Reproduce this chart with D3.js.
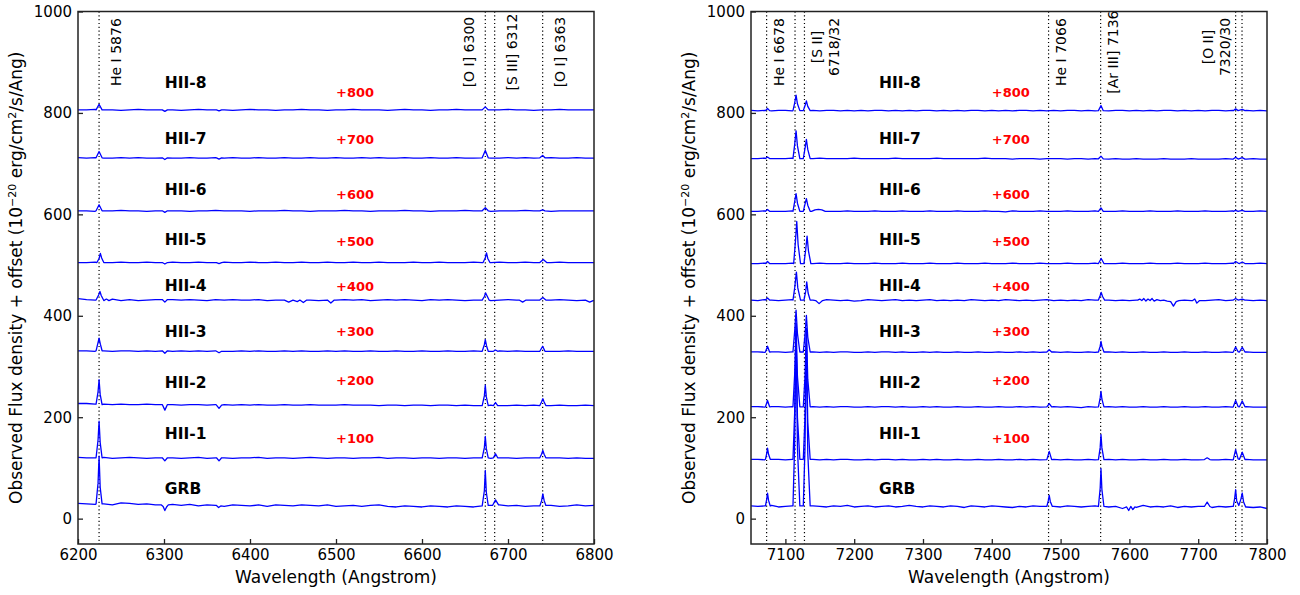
<!DOCTYPE html>
<html><head><meta charset="utf-8">
<script src="https://cdn.jsdelivr.net/npm/d3@7"></script>
<style>body{margin:0;background:#fff}svg{display:block}text{font-family:"DejaVu Sans",sans-serif}</style>
</head><body><svg id="c" width="1300" height="595"></svg>
<script>
// ---------- data ----------
const names = ["GRB","HII-1","HII-2","HII-3","HII-4","HII-5","HII-6","HII-7","HII-8"];
const offsets = [0,100,200,300,400,500,600,700,800];
const offsetLabels = ["","+100","+200","+300","+400","+500","+600","+700","+800"];
const nameY = [60,169,269,369,460,551,650,750,860];
const offsetLabelY = [null,159,272,369,458,547,640,749,841];
const yTicks = [0,200,400,600,800,1000];
const xTicksL = [6200,6300,6400,6500,6600,6700,6800];
const xTicksR = [7100,7200,7300,7400,7500,7600,7700,7800];
const gridStartL = 6200, gridStartR = 7050, gridStep = 10;

// observed positions of marked lines
const markL = [6224.5,6673.6,6684.5,6740.3];
const markR = [7072.7,7114,7127.7,7482.5,7558.2,7754.4,7763.7];
const lineLabelsL = ["He I 5876","[O I] 6300","[S III] 6312","[O I] 6363"];
const lineLabelXL = [6244,6655,6705,6760];
const lineLabelsR = ["He I 6678","[S II]\n6718/32","He I 7066","[Ar III] 7136","[O II]\n7320/30"];
const lineLabelXR = [7091,7158.5,7501,7576,7727];

// continuum flux (no offset), 10 A grid
const contL_GRB = [30,29,28,29,27,31,30,28,29,27,27,28,26,28,25,27,26,24,27,26,25,27,24,27,26,25,27,26,25,27,24,25,26,24,26,27,24,23,25,24,23,25,24,23,25,24,23,25,26,27,25,26,24,25,26,26,24,25,27,25,26];
const contL_HII1 = [21,20,20,21,19,20,21,20,19,20,20,20,19,20,21,19,20,20,19,20,20,21,19,20,20,19,20,21,20,19,20,20,19,20,20,21,19,20,20,19,20,20,19,20,20,19,20,20,19,20,20,19,20,20,19,20,20,19,20,19,19];
const contL_HII2 = [27,27,26,26,25,26,25,25,26,25,25,25,24,25,25,24,25,25,24,25,24,25,24,24,25,24,24,25,24,24,24,25,24,24,24,23,24,24,23,24,24,23,24,24,23,24,23,24,24,23,23,24,23,24,23,23,24,23,23,24,23];
const contL_HII3 = [31,31,30,31,30,31,31,30,31,30,31,30,31,30,31,30,31,30,30,31,30,31,30,30,31,30,31,30,30,31,30,31,30,30,31,30,30,31,30,30,31,30,30,31,30,30,31,30,30,31,30,31,30,30,31,30,30,31,30,30,30];
const contL_HII4 = [34,32,31,30,33,30,32,30,31,32,30,32,31,32,31,30,32,31,32,31,31,32,30,31,32,31,32,31,30,32,31,32,31,32,30,31,32,31,32,31,30,32,31,32,31,30,31,32,30,31,32,31,32,31,30,31,32,31,30,31,30];
const contL_HII5 = [5,5,6,5,5,6,5,5,6,5,5,6,5,5,6,5,5,6,5,5,6,5,5,6,5,5,6,5,5,6,5,5,6,5,5,6,5,5,5,6,5,5,6,5,5,5,6,5,5,6,5,5,6,5,5,5,6,5,5,5,5];
const contL_HII6 = [7,7,6,7,7,8,7,7,6,7,7,7,7,6,7,7,8,7,7,7,6,7,7,7,8,7,7,6,7,7,7,8,7,7,6,7,7,7,8,7,7,6,7,7,7,8,7,7,6,7,7,7,8,7,7,6,7,7,7,7,7];
const contL_HII7 = [12,11,12,11,11,12,11,12,11,11,12,11,11,12,11,11,12,11,12,11,11,12,11,11,12,11,11,12,11,11,12,11,11,12,11,12,11,11,12,11,11,12,11,11,12,11,11,12,11,11,12,11,12,11,11,12,11,11,12,11,11];
const contL_HII8 = [6,6,7,6,6,5,6,7,6,6,6,6,5,6,7,6,6,6,5,6,7,6,6,5,6,6,7,6,6,5,6,6,7,6,6,6,5,6,7,6,6,5,6,6,7,6,6,5,6,6,7,6,6,5,6,6,7,6,6,6,6];

const contR_GRB = [25,24,25,26,23,24,25,24,26,25,24,23,25,24,26,23,24,25,23,24,25,23,24,26,24,23,25,24,23,25,24,22,25,24,23,25,24,23,22,24,23,25,24,22,24,23,25,24,23,24,25,24,23,24,20,25,22,26,23,24,23,25,22,24,23,24,23,22,24,23,24,25,23,22,23,20];
const contR_HII1 = [17,17,16,17,17,16,17,16,17,17,16,17,16,17,17,16,16,17,16,17,17,16,17,16,16,17,16,17,16,16,17,16,16,17,16,16,17,16,16,17,16,17,16,16,17,16,17,16,16,17,16,16,17,16,17,16,16,17,16,16,17,16,16,17,16,16,17,16,16,17,16,16,17,16,16,16];
const contR_HII2 = [21,21,20,21,21,20,21,20,21,21,20,21,20,21,21,20,20,21,20,21,21,20,21,20,20,21,20,21,20,20,21,20,20,21,20,20,21,20,20,21,20,21,20,20,21,20,21,20,19,21,20,20,21,20,21,20,20,21,20,20,21,20,20,21,20,20,21,20,20,21,20,20,21,20,20,20];
const contR_HII3 = [29,29,28,29,29,28,29,28,29,29,28,29,28,29,29,28,28,29,28,29,29,28,29,28,28,29,28,29,28,28,29,28,28,29,28,28,29,28,28,29,28,29,28,28,29,28,29,28,28,29,28,28,29,28,29,28,28,29,28,28,29,28,28,29,28,28,29,28,28,29,28,28,29,28,28,28];
const contR_HII4 = [31,30,32,31,30,31,32,30,31,31,30,32,31,30,31,29,30,32,31,30,31,32,30,31,30,31,32,30,31,30,31,30,32,31,30,31,30,32,31,30,31,30,31,32,30,31,30,31,30,32,31,30,31,30,31,30,31,30,31,30,31,32,30,31,30,31,30,31,32,30,31,30,31,30,31,30];
const contR_HII5 = [3,3,4,3,3,3,4,3,3,3,4,3,3,3,4,3,3,3,4,3,3,3,4,3,3,3,4,3,3,3,4,3,3,3,4,3,3,3,4,3,3,3,4,3,3,3,4,3,3,3,4,3,3,3,4,3,3,3,4,3,3,3,4,3,3,3,4,3,3,3,4,3,3,3,4,3];
const contR_HII6 = [6,6,7,6,6,6,7,6,6,6,7,6,6,6,7,6,6,6,7,6,6,6,7,6,6,6,7,6,6,6,7,6,6,6,7,6,6,5,7,6,6,6,7,6,6,6,7,6,6,6,7,6,6,6,7,6,6,6,7,6,6,6,7,6,6,6,7,6,6,6,7,6,6,6,7,6];
const contR_HII7 = [10,10,11,10,10,10,11,10,10,10,11,10,10,10,10,11,10,10,10,10,10,11,10,10,10,10,10,11,10,10,10,10,10,10,11,10,10,10,9,10,10,10,9,10,10,10,9,10,10,9,10,9,9,10,9,9,10,9,9,9,10,9,9,9,10,9,9,9,9,10,9,9,9,10,9,9];
const contR_HII8 = [5,4,5,4,5,5,4,5,4,5,4,5,5,4,5,4,5,4,5,5,4,5,4,5,4,5,5,4,5,4,5,4,5,5,4,5,4,5,4,5,5,4,5,4,5,4,5,5,4,5,4,5,4,5,5,4,5,4,5,4,5,5,4,5,4,5,4,5,5,4,5,4,5,4,5,4];

// line / feature points [wavelength, flux] (no offset)
const featL_GRB = [
 [[6221,29],[6223.3,70],[6224.5,123],[6225.8,62],[6228,29]],
 [[6297,27],[6299,24],[6301,16],[6303,23],[6305,27]],
 [[6361,26],[6363.5,22],[6366,25]],
 [[6670,25],[6672.5,55],[6673.6,95],[6674.8,52],[6677,26]],
 [[6682,26],[6685.5,37],[6689,27]],
 [[6737,25],[6739,35],[6740.5,49],[6742,36],[6744,26]]];
const featL_HII1 = [
 [[6221,20],[6223.3,55],[6224.5,92],[6225.8,50],[6228,20]],
 [[6298,20],[6301,14],[6304,20]],
 [[6361,20],[6364,14],[6367,20]],
 [[6670,20],[6672.5,40],[6673.6,62],[6674.8,38],[6677,20]],
 [[6683,20],[6685.5,28],[6688,20]],
 [[6737,20],[6739,27],[6740.5,34.7],[6742,27],[6744,20]]];
const featL_HII2 = [
 [[6221,26],[6223.3,50],[6224.5,74],[6225.8,45],[6228,25]],
 [[6298,25],[6301,14],[6304,25]],
 [[6361,24],[6364,17.5],[6367,24]],
 [[6670,23],[6672.5,42],[6673.6,63],[6674.8,40],[6677,23]],
 [[6683,23],[6685.5,29],[6688,23]],
 [[6737,23],[6739,30],[6740.5,36.6],[6742,30],[6744,23]]];
const featL_HII3 = [
 [[6221,31],[6223,45],[6224.5,56],[6226,44],[6228,31]],
 [[6298,31],[6301,26],[6304,31]],
 [[6361,30],[6364,27],[6367,30]],
 [[6670,30],[6672.5,43],[6673.6,53],[6675,41],[6677,30]],
 [[6683,30],[6685.5,32.5],[6688,30]],
 [[6737,30],[6740.3,40],[6743,30]]];
const featL_HII4 = [
 [[6221,31],[6224,41],[6225.5,48],[6227,40],[6230,30],[6233,33],[6236,30]],
 [[6298,32],[6301,27],[6304,32]],
 [[6440,31],[6445,27],[6450,31],[6455,28],[6458,31],[6462,26],[6466,31]],
 [[6490,31],[6494,25],[6498,31]],
 [[6670,31],[6672.5,38],[6674,45],[6676,38],[6678,31]],
 [[6713,31],[6717,27],[6721,31]],
 [[6737,31],[6740.5,36],[6744,31]],
 [[6790,31],[6795,27],[6799,30]]];
const featL_HII5 = [
 [[6222,5],[6224.5,13],[6226,23],[6227.5,14],[6230,5]],
 [[6298,5],[6301,2],[6304,5]],
 [[6361,5],[6364,3],[6367,5]],
 [[6671,5],[6673.5,14],[6675,24],[6676.5,13],[6679,5]],
 [[6737,5],[6741,11],[6745,5]]];
const featL_HII6 = [
 [[6221,7],[6224.5,19],[6228,7]],
 [[6298,7],[6301,4],[6304,7]],
 [[6670,7],[6673.6,13],[6677,7]],
 [[6737,7],[6740.3,9],[6743,7]]];
const featL_HII7 = [
 [[6221,11.5],[6224.5,24],[6228,11.5]],
 [[6298,11.5],[6301,8],[6304,11.5]],
 [[6361,11.5],[6364,9],[6367,11.5]],
 [[6670,11.5],[6673.6,26],[6677,11.5]],
 [[6737,11.5],[6740.3,16],[6743,11.5]]];
const featL_HII8 = [
 [[6221,6],[6224.5,17],[6228,6]],
 [[6298,6],[6301,3],[6304,6]],
 [[6361,6],[6364,4],[6367,6]],
 [[6670,6],[6673.6,12],[6677,6]]];

const featR_GRB = [
 [[7071,25],[7072.8,38],[7074,50.5],[7075.5,36],[7078,25]],
 [[7111,25],[7113.5,150],[7115.5,385],[7117.5,140],[7121,25],[7126,25],[7128.5,140],[7130.5,375],[7132.5,130],[7136,25]],
 [[7480,24],[7482,35],[7483.5,46],[7485,34],[7488,24]],
 [[7555,24],[7557.5,60],[7558.7,98.6],[7560,58],[7563,24]],
 [[7596,23],[7599,16],[7602,24],[7605,18],[7608,23]],
 [[7709,24],[7713,32.7],[7717,24]],
 [[7751,24],[7753,40],[7754.4,57],[7756,35],[7759,26],[7762,38],[7764,50.5],[7766,33],[7769,23]]];
const featR_HII1 = [
 [[7071,17],[7072.8,28],[7074,39],[7075.5,27],[7078,17]],
 [[7111,17],[7113.5,110],[7115.5,265],[7117.5,100],[7121,17],[7126,17],[7128.5,100],[7130.5,245],[7132.5,90],[7136,17]],
 [[7480,16.5],[7483.5,32.7],[7487,16.5]],
 [[7555,16.5],[7557.5,40],[7558.7,65.6],[7560,40],[7563,16.5]],
 [[7709,16.5],[7713,20],[7717,16.5]],
 [[7751,16.5],[7754.4,36],[7758,18],[7760,17],[7764,31],[7768,16.5]]];
const featR_HII2 = [
 [[7071,20.5],[7074,33],[7077,20.5]],
 [[7111,20.5],[7113.5,85],[7115.5,185],[7117.5,80],[7121,20.5],[7126,20.5],[7128.5,80],[7130.5,175],[7132.5,75],[7136,20.5]],
 [[7480,20.5],[7483.5,27],[7487,20.5]],
 [[7555,20.5],[7557.5,38],[7558.7,51],[7560,36],[7563,20.5]],
 [[7751,20.5],[7754.4,33],[7758,21],[7760,20.5],[7764,32],[7768,20.5]]];
const featR_HII3 = [
 [[7071,28.6],[7074,40],[7077,28.6]],
 [[7111,28.6],[7113.5,70],[7115.5,111],[7117.5,65],[7121,28.6],[7126,28.6],[7128.5,62],[7130.5,101],[7132.5,58],[7136,28.6]],
 [[7480,28.6],[7483.5,33],[7487,28.6]],
 [[7555,28.6],[7557.5,40],[7558.7,49.7],[7560,40],[7563,28.6]],
 [[7751,28.6],[7754.4,38.5],[7758,29],[7760,28.6],[7764,38],[7768,28.6]]];
const featR_HII4 = [
 [[7071,31],[7074,35],[7077,31]],
 [[7111,31],[7113.5,55],[7116,86],[7118,55],[7122,31],[7127,31],[7129.5,48],[7131,67],[7133,45],[7136,31]],
 [[7144,30],[7149,24],[7154,30]],
 [[7555,31],[7557.5,40],[7559,46],[7561,38],[7564,31]],
 [[7612,31],[7615,33],[7618,30],[7621,34],[7624,29],[7627,33],[7630,30],[7633,34],[7636,29],[7640,32],[7645,30],[7650,31],[7655,29],[7660,28],[7664,19],[7668,28],[7672,30]],
 [[7692,30],[7695,33],[7698,25],[7702,30]],
 [[7751,31],[7754.4,34],[7758,31],[7764,33],[7768,31]]];
const featR_HII5 = [
 [[7071,3],[7074,7],[7077,3]],
 [[7112,3],[7114.5,45],[7116.5,86],[7118.5,40],[7122,3],[7127,3],[7129.5,30],[7131.5,57],[7133.5,28],[7137,3]],
 [[7555,3],[7559,13],[7563,3]],
 [[7751,3],[7754.4,7],[7758,4],[7760,3],[7764,6],[7768,3]]];
const featR_HII6 = [
 [[7071,6],[7074,9.5],[7077,6]],
 [[7111,6],[7113.5,25],[7115.5,41],[7117.5,22],[7121,6],[7126,6],[7128.5,20],[7130.5,31],[7132.5,18],[7136,6]],
 [[7138,6],[7143,9],[7148,10],[7153,9],[7158,6]],
 [[7555,6],[7558.7,12.6],[7562,6]],
 [[7751,6],[7754.4,8],[7758,6],[7764,8],[7768,6]]];
const featR_HII7 = [
 [[7071,10],[7074,13],[7077,10]],
 [[7111,10],[7113.5,38],[7115.5,64.5],[7117.5,35],[7121,10],[7126,10],[7128.5,30],[7130.5,48],[7132.5,28],[7136,10]],
 [[7555,9.5],[7558.7,14.7],[7562,9.5]],
 [[7751,9],[7754.4,12.6],[7758,9],[7764,12],[7768,9]]];
const featR_HII8 = [
 [[7071,4.5],[7074,9],[7077,4.5]],
 [[7111,4.5],[7113.5,20],[7115.5,35],[7117.5,18],[7121,4.5],[7126,4.5],[7128.5,14],[7130.5,23.7],[7132.5,13],[7136,4.5]],
 [[7555,4.5],[7558.7,14.6],[7562,4.5]],
 [[7751,4.5],[7754.4,8],[7758,4.5],[7764,7],[7768,4.5]]];

// ---------- drawing ----------
const contL = [contL_GRB,contL_HII1,contL_HII2,contL_HII3,contL_HII4,contL_HII5,contL_HII6,contL_HII7,contL_HII8];
const featL = [featL_GRB,featL_HII1,featL_HII2,featL_HII3,featL_HII4,featL_HII5,featL_HII6,featL_HII7,featL_HII8];
const contR = [contR_GRB,contR_HII1,contR_HII2,contR_HII3,contR_HII4,contR_HII5,contR_HII6,contR_HII7,contR_HII8];
const featR = [featR_GRB,featR_HII1,featR_HII2,featR_HII3,featR_HII4,featR_HII5,featR_HII6,featR_HII7,featR_HII8];

function buildSpectrum(start, cont, groups, offset) {
  const pts = [];
  cont.forEach((v,i) => {
    const w = start + i*gridStep;
    if (!groups.some(g => w >= g[0][0] && w <= g[g.length-1][0])) pts.push([w, v]);
  });
  groups.forEach(g => g.forEach(p => pts.push(p)));
  pts.sort((a,b) => a[0]-b[0]);
  return pts.map(p => [p[0], p[1] + offset]);
}

const svg = d3.select("#c");
svg.append("rect").attr("width",1300).attr("height",595).attr("fill","#fff");
const yTop = 11.5, yBot = 544;
const y = d3.scaleLinear().domain([-50,1000]).range([yBot, yTop]);

const panels = [
  {x0:78, x1:594, dom:[6200,6800], ticks:xTicksL, start:gridStartL, cont:contL, feat:featL, marks:markL, labels:lineLabelsL, labelX:lineLabelXL, nameX:6301, offX:6500, ylabX:22, id:"L"},
  {x0:751, x1:1267, dom:[7050,7800], ticks:xTicksR, start:gridStartR, cont:contR, feat:featR, marks:markR, labels:lineLabelsR, labelX:lineLabelXR, nameX:7236, offX:7400, ylabX:695, id:"R"}
];

panels.forEach(P => {
  const x = d3.scaleLinear().domain(P.dom).range([P.x0, P.x1]);
  const g = svg.append("g");
  g.append("clipPath").attr("id","clip"+P.id).append("rect")
    .attr("x",P.x0).attr("y",yTop).attr("width",P.x1-P.x0).attr("height",yBot-yTop);
  const plot = g.append("g").attr("clip-path",`url(#clip${P.id})`);

  plot.selectAll("line.mk").data(P.marks).join("line").attr("class","mk")
    .attr("x1",d=>x(d)).attr("x2",d=>x(d)).attr("y1",yTop).attr("y2",yBot)
    .attr("stroke","#000").attr("stroke-width",1.2).attr("stroke-dasharray","1.2,2.6");

  const line = d3.line().x(d=>x(d[0])).y(d=>y(d[1]));
  names.forEach((n,i) => {
    const pts = buildSpectrum(P.start, P.cont[i], P.feat[i], offsets[i]);
    plot.append("path").attr("d", line(pts)).attr("fill","none")
      .attr("stroke","#0000ff").attr("stroke-width",1.3).attr("stroke-linejoin","round");
  });

  names.forEach((n,i) => {
    g.append("text").attr("x",x(P.nameX)).attr("y",y(nameY[i]) + 0.729*15.5/2)
      .attr("font-size",15.5).attr("font-weight","bold").attr("fill","#000").text(n);
    if (offsetLabelY[i] !== null)
      g.append("text").attr("x",x(P.offX)).attr("y",y(offsetLabelY[i]) + 0.729*13/2)
        .attr("font-size",13).attr("font-weight","bold").attr("fill","#ff0000").text(offsetLabels[i]);
  });

  P.labels.forEach((lab,i) => {
    const parts = lab.split("\n");
    const cy = parts.length > 1 ? y(930) : y(920);
    const t = g.append("text").attr("transform",`translate(${x(P.labelX[i])},${cy}) rotate(-90)`)
      .attr("text-anchor","middle").attr("font-size",14).attr("fill","#000");
    const lh = 17, fs = 14;
    parts.forEach((p,j) => {
      const dy = j === 0 ? (0.36*fs - (parts.length-1)*lh/2) : lh;
      t.append("tspan").attr("x",0).attr("dy",dy).text(p);
    });
  });

  const ax = g.append("g").attr("transform",`translate(${P.x0},0)`)
    .call(d3.axisLeft(y).tickValues(yTicks).tickSizeInner(-5).tickSizeOuter(0).tickPadding(6).tickFormat(d3.format("d")));
  const bx = g.append("g").attr("transform",`translate(0,${yBot})`)
    .call(d3.axisBottom(x).tickValues(P.ticks).tickSizeInner(-5).tickSizeOuter(0).tickPadding(5.5).tickFormat(d3.format("d")));
  [ax,bx].forEach(a => {
    a.select(".domain").remove();
    a.selectAll("line").attr("stroke","#222").attr("stroke-width",1.3);
    a.selectAll("text").attr("font-size",15).attr("fill","#000").attr("font-family","DejaVu Sans");
  });

  g.append("rect").attr("x",P.x0).attr("y",yTop).attr("width",P.x1-P.x0).attr("height",yBot-yTop)
    .attr("fill","none").attr("stroke","#222").attr("stroke-width",1.5);

  g.append("text").attr("x",(P.x0+P.x1)/2).attr("y",583).attr("text-anchor","middle")
    .attr("font-size",17).attr("fill","#000").text("Wavelength (Angstrom)");
  const yl = g.append("text").attr("transform",`translate(${P.ylabX},${(yTop+yBot)/2}) rotate(-90)`)
    .attr("text-anchor","middle").attr("font-size",17).attr("fill","#000");
  yl.append("tspan").text("Observed Flux density + offset (10");
  yl.append("tspan").attr("baseline-shift","super").attr("font-size",11).text("\u221220");
  yl.append("tspan").text(" erg/cm");
  yl.append("tspan").attr("baseline-shift","super").attr("font-size",11).text("2");
  yl.append("tspan").text("/s/Ang)");
});
</script></body></html>
